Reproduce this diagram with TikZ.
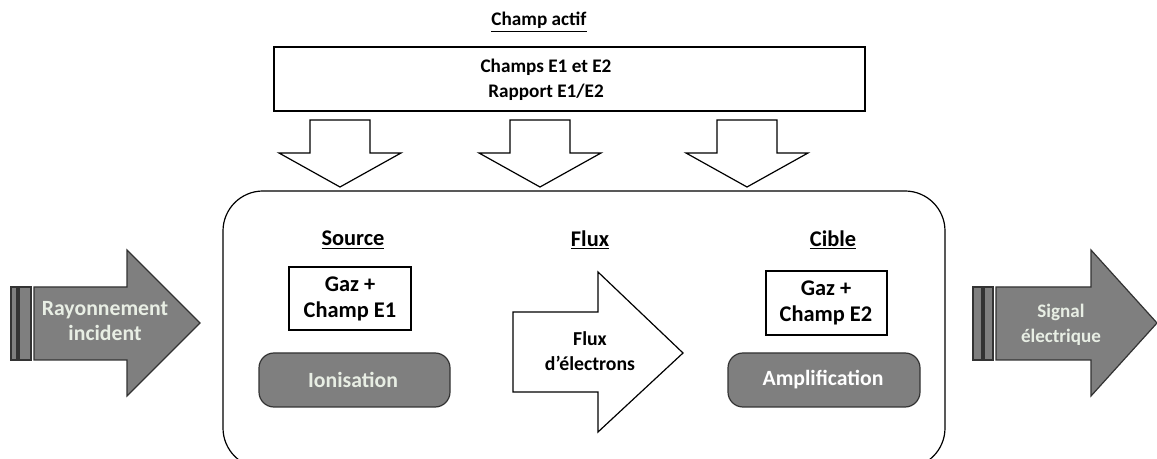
\documentclass[tikz,border=0pt]{standalone}
\usepackage{fontspec}
\setmainfont{Carlito}
\definecolor{arrgray}{RGB}{127,127,127}
\definecolor{lighttxt}{RGB}{232,238,228}
\begin{document}
\begin{tikzpicture}[x=0.75pt,y=-0.75pt,
  lbl/.style={font=\fontsize{#1}{19}\selectfont\bfseries, align=center, inner sep=0pt},
  lbl/.default=15,
  outline/.style={draw=black, line width=0.9pt, line join=miter},
  grayshape/.style={draw=black!80, line width=0.9pt, fill=arrgray},
  lighttext/.style={lbl=#1, text=lighttxt},
  lighttext/.default=16]
\useasboundingbox (0,0) rectangle (1157,459);

% title
\node[lbl=14.4] (title) at (539,22) {\underline{Champ actif}};
% top box
\draw[outline] (274,47) rectangle (865,111);
\node[lbl=14.4] (champs) at (546,80) {Champs E1 et E2\\Rapport E1/E2};

% down arrows
\foreach \cx/\nm in {340/da1,540/da2,747/da3}{
  \draw[outline, fill=white] (\cx-30,120) -- (\cx+30,120) -- (\cx+30,153) -- (\cx+61,153) -- (\cx,187) -- (\cx-61,153) -- (\cx-30,153) -- cycle;
  \coordinate (\nm) at (\cx,187);
}

% big rounded box
\draw[outline, rounded corners=40*0.75pt] (223,191) rectangle (945,468);

% section labels
\node[lbl=16.8] (source) at (353,240) {\underline{Source}};
\node[lbl=16.8] (fluxlbl) at (590,240) {\underline{Flux}};
\node[lbl=16.8] (cible) at (833,240) {\underline{Cible}};

% gas boxes
\draw[outline] (289,267) rectangle (411,330);
\node[lbl=16.8] (gaz1) at (350,299) {Gaz +\\Champ E1};
\draw[outline] (766,271) rectangle (887,335);
\node[lbl=16.8] (gaz2) at (826,303) {Gaz +\\Champ E2};

% rounded gray boxes
\draw[grayshape, rounded corners=15*0.75pt] (259,353) rectangle (450,407);
\node[lighttext=16.3] (ion) at (353,380) {Ionisation};
\draw[grayshape, rounded corners=15*0.75pt] (728,353) rectangle (920,407);
\node[lbl=16.3, text=white] (ampl) at (823,380) {Amplification};

% flux arrow
\draw[outline, fill=white] (513,312) -- (598,312) -- (598,272) -- (683,353) -- (598,432) -- (598,392) -- (513,392) -- cycle;
\node[lbl=14.8] (fluxe) at (590,351) {Flux\\d’électrons};

% input arrow
\draw[grayshape] (11,287) rectangle (17,360);
\draw[grayshape] (19,287) rectangle (31,360);
\draw[grayshape] (34,287) -- (127,287) -- (127,250) -- (200,323) -- (127,396) -- (127,360) -- (34,360) -- cycle;
\node[lighttext=16.3] (ray) at (105,321) {Rayonnement\\incident};

% output arrow
\draw[grayshape] (973,287) rectangle (982,360);
\draw[grayshape] (984,287) rectangle (993,360);
\draw[grayshape] (996,287) -- (1091,287) -- (1091,250) -- (1157,323) -- (1091,396) -- (1091,360) -- (996,360) -- cycle;
\node[lighttext=14.3] (sig) at (1061,325) {Signal\\électrique};
\end{tikzpicture}
\end{document}
